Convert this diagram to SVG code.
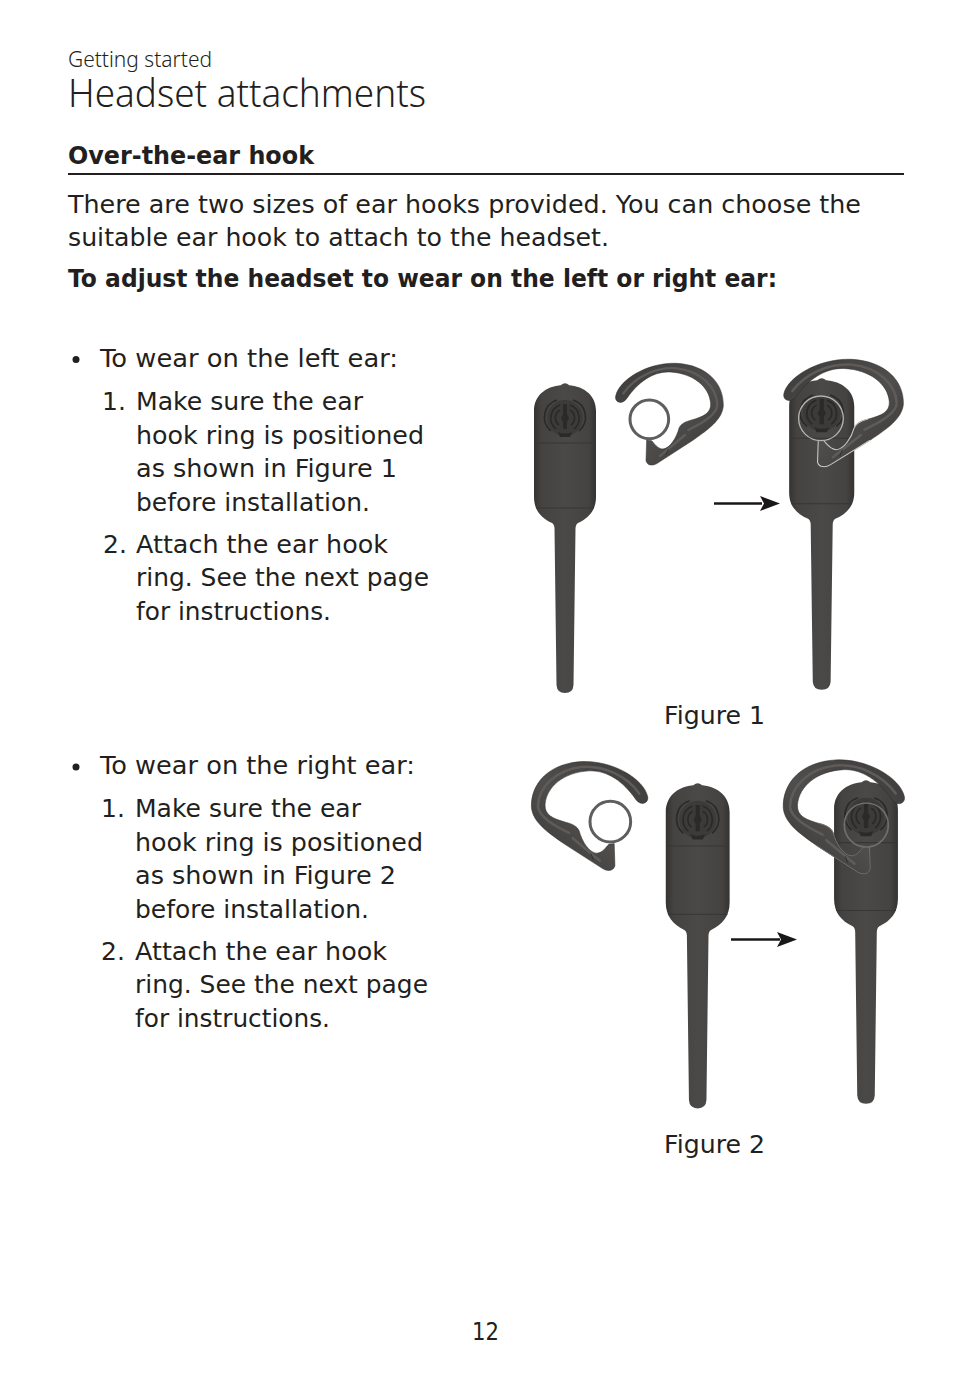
<svg xmlns="http://www.w3.org/2000/svg" width="954" height="1392" viewBox="0 0 954 1392">
<style>
text{font-family:"DejaVu Sans","Liberation Sans",sans-serif;fill:#231f20;font-size:25px}
.b{font-weight:700}
.l{font-family:"Noto Sans","DejaVu Sans",sans-serif;font-weight:300}
.seam{stroke:#373635;stroke-width:1;fill:none}
.arc{fill:none;stroke:#2a2928;stroke-width:1.6}
.ring{fill:none;stroke:#5f5e5d;stroke-width:9}
.arrow{stroke:#1a1718;stroke-width:2.4;fill:none}
.hi{fill:none;stroke:#5e5c5b;stroke-width:7;stroke-linecap:round}
</style>
<defs>
<linearGradient id="bodyGrad" x1="0" x2="1" y1="0" y2="0">
<stop offset="0" stop-color="#343332"/><stop offset=".12" stop-color="#444342"/><stop offset=".5" stop-color="#4b4947"/><stop offset=".88" stop-color="#444342"/><stop offset="1" stop-color="#343332"/>
</linearGradient>
<linearGradient id="hookGrad" x1="0" x2="1" y1="0" y2="1">
<stop offset="0" stop-color="#3c3b3a"/><stop offset=".55" stop-color="#504e4d"/><stop offset="1" stop-color="#383736"/>
</linearGradient>
<g id="headset">
<path d="M-4,0 Q0,-3.500 4,0Z" fill="#4a4847"/>
<path d="M-31,26 C-31,9 -17,0 0,0 C17,0 31,9 31,26 L31,112 C31,125 24,133 13,138 Q11,139 10.500,143 L8.500,300 Q8,308 0,308 Q-8,308 -8.500,300 L-10.500,143 Q-11,139 -13,138 C-24,133 -31,125 -31,112Z" fill="url(#bodyGrad)"/>
<path class="seam" d="M-30,58 H30 M-29,123 H29"/>
<circle cx="0" cy="33" r="18" fill="#3c3b3a"/>
<g class="arc">
<path d="M-5,20 A14,14 0 0 0 -9,44 M5,20 A14,14 0 0 1 9,44"/>
<path d="M-5,25 A9,9 0 0 0 -6,40 M5,25 A9,9 0 0 1 6,40"/>
<path d="M-8,15 A18,18 0 0 0 -14,46 M8,15 A18,18 0 0 1 14,46"/>
</g>
<path d="M-2,19 H2 V29 L4,33 L2,37 V44 H-2 V37 L-4,33 L-2,29Z" fill="#2b2a29"/>
<path d="M-7,47 Q0,50 7,47 L5,52 H-5Z" fill="#2b2a29"/>
</g>
<g id="hook">
<path d="M287,138 C298,88 385,36 470,40 C560,45 612,100 610,168 C606,210 565,238 520,270 L412,340 C400,348 382,348 378,332 L380,270 L395,272 C403,280 412,296 428,297 C450,296 470,262 477,235 C482,222 495,215 515,210 C550,200 574,190 572,160 C568,110 520,70 450,66 C400,64 355,95 320,146 C307,165 283,158 287,138Z" fill="url(#hookGrad)" stroke="#2e2d2c" stroke-width="1.500"/>
<path class="hi" d="M310,130 C345,80 410,50 470,55 C540,62 590,110 592,165 C590,195 545,220 505,240 M495,255 L420,318"/>
<path d="M445,298 L438,315" stroke="#2e2d2c" stroke-width="2.500" fill="none"/>
</g>
<path id="hookEdge" fill="none" d="M380,270 L378,332 C382,348 400,348 412,340 L520,270 M395,272 C403,280 412,296 428,297 C450,296 470,262 477,235 C482,222 495,215 515,210"/>
</defs>

<g id="page-text">
<text x="68" y="67" class="l" style="font-size:21px" textLength="144" lengthAdjust="spacingAndGlyphs">Getting started</text>
<text x="68" y="107" class="l" style="font-size:38px" textLength="358" lengthAdjust="spacingAndGlyphs">Headset attachments</text>
<text x="68" y="164" class="b" textLength="246" lengthAdjust="spacingAndGlyphs">Over-the-ear hook</text>
<rect x="68" y="173" width="836" height="2" fill="#231f20"/>
<text x="68" y="213" textLength="793" lengthAdjust="spacingAndGlyphs">There are two sizes of ear hooks provided. You can choose the</text>
<text x="68" y="246" textLength="541" lengthAdjust="spacingAndGlyphs">suitable ear hook to attach to the headset.</text>
<text x="68" y="287" class="b" textLength="709" lengthAdjust="spacingAndGlyphs">To adjust the headset to wear on the left or right ear:</text>
<circle cx="76" cy="359.500" r="3.500" fill="#231f20"/>
<text x="100" y="367" textLength="298" lengthAdjust="spacingAndGlyphs">To wear on the left ear:</text>
<text x="102" y="410">1.</text>
<text x="136" y="410" textLength="227" lengthAdjust="spacingAndGlyphs">Make sure the ear</text>
<text x="136" y="444" textLength="288" lengthAdjust="spacingAndGlyphs">hook ring is positioned</text>
<text x="136" y="477" textLength="261" lengthAdjust="spacingAndGlyphs">as shown in Figure 1</text>
<text x="136" y="511" textLength="234" lengthAdjust="spacingAndGlyphs">before installation.</text>
<text x="103" y="553">2.</text>
<text x="136" y="553" textLength="252" lengthAdjust="spacingAndGlyphs">Attach the ear hook</text>
<text x="136" y="586" textLength="293" lengthAdjust="spacingAndGlyphs">ring. See the next page</text>
<text x="136" y="620" textLength="195" lengthAdjust="spacingAndGlyphs">for instructions.</text>
<text x="664" y="724" textLength="101" lengthAdjust="spacingAndGlyphs">Figure 1</text>
<circle cx="76" cy="767" r="3.500" fill="#231f20"/>
<text x="100" y="774" textLength="315" lengthAdjust="spacingAndGlyphs">To wear on the right ear:</text>
<text x="101" y="817">1.</text>
<text x="135" y="817" textLength="226" lengthAdjust="spacingAndGlyphs">Make sure the ear</text>
<text x="135" y="851" textLength="288" lengthAdjust="spacingAndGlyphs">hook ring is positioned</text>
<text x="135" y="884" textLength="261" lengthAdjust="spacingAndGlyphs">as shown in Figure 2</text>
<text x="135" y="918" textLength="234" lengthAdjust="spacingAndGlyphs">before installation.</text>
<text x="101" y="960">2.</text>
<text x="135" y="960" textLength="252" lengthAdjust="spacingAndGlyphs">Attach the ear hook</text>
<text x="135" y="993" textLength="293" lengthAdjust="spacingAndGlyphs">ring. See the next page</text>
<text x="135" y="1027" textLength="195" lengthAdjust="spacingAndGlyphs">for instructions.</text>
<text x="664" y="1153" textLength="101" lengthAdjust="spacingAndGlyphs">Figure 2</text>
<text x="472" y="1340" textLength="27" lengthAdjust="spacingAndGlyphs">12</text>
</g>

<g id="figure-1-headset"><use href="#headset" transform="translate(565,385)"/></g>
<g id="figure-1-hook">
<g transform="translate(520,350) scale(.3333)"><use href="#hook"/><circle class="ring" cx="388" cy="208" r="58"/></g>
</g>
<g id="figure-1-assembled">
<use href="#headset" transform="translate(821.700,380) scale(1.05,1.006)"/>
<g transform="translate(520,350) scale(.3333)">
<g transform="translate(795,28) scale(1.11,1.055) translate(-290,-40)"><use href="#hook"/><use href="#hookEdge" stroke="#c9c8c7" stroke-width="3"/></g>
<circle cx="903" cy="205" r="67" fill="none" stroke="#b4b3b2" stroke-width="4"/>
</g>
</g>

<g id="figure-2-hook">
<g transform="translate(520,750) scale(.3333)">
<g transform="translate(693,-8) scale(-1.08,1.07)"><use href="#hook"/></g>
<circle class="ring" cx="271" cy="215" r="61"/>
</g>
</g>
<g id="figure-2-headset"><use href="#headset" transform="translate(697.700,785) scale(1.03,1.05)"/></g>
<g id="figure-2-assembled">
<use href="#headset" transform="translate(866,782) scale(1.03,1.045)"/>
<g transform="translate(520,750) scale(.3333)">
<g transform="translate(1476,-15) scale(-1.125,1.12)"><use href="#hook"/><use href="#hookEdge" stroke="#757473" stroke-width="2.500"/></g>
<circle cx="1039" cy="225" r="66" fill="none" stroke="#6f6e6d" stroke-width="5"/>
</g>
</g>

<g id="connectors">
<line class="arrow" x1="714" y1="503.500" x2="762" y2="503.500"/>
<polygon points="780,503.500 760,496 764,503.500 760,511" fill="#1a1718"/>
<line class="arrow" x1="731" y1="939.500" x2="780" y2="939.500"/>
<polygon points="797,939.500 777,932 781,939.500 777,947" fill="#1a1718"/>
</g>
</svg>
